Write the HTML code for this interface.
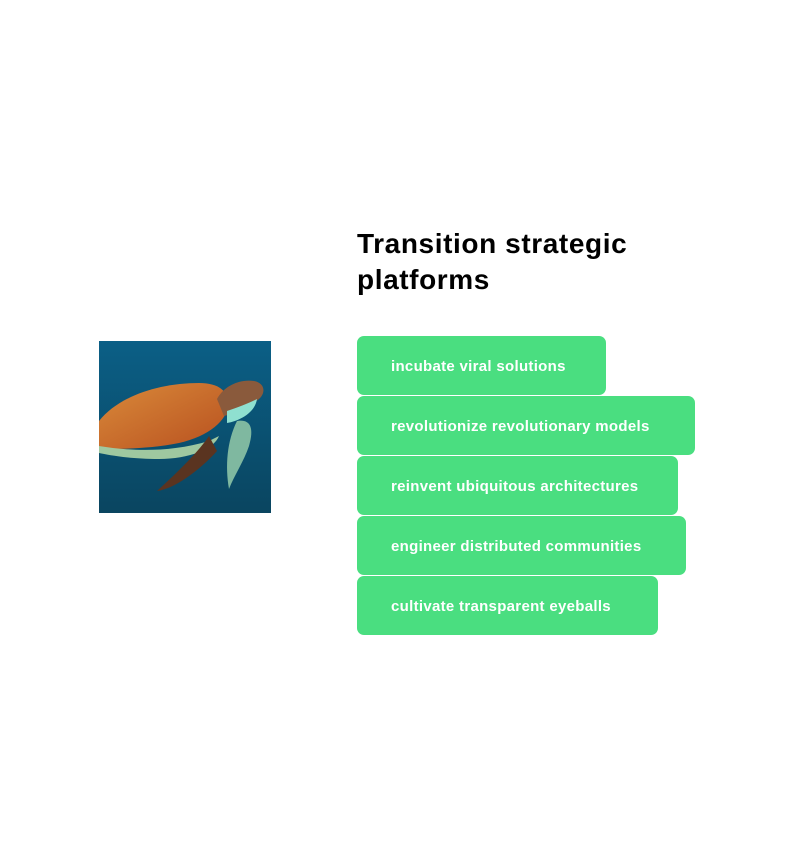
<!DOCTYPE html>
<html><head><meta charset="utf-8"><style>
body{margin:0;width:800px;height:860px;background:#fff;position:relative;font-family:"Liberation Sans",sans-serif;overflow:hidden}
.t{position:absolute;left:357px;top:226px;font-size:28px;font-weight:bold;line-height:36px;color:#000;letter-spacing:0.6px}
.b{position:absolute;left:357px;height:59px;background:#4ade80;border-radius:7px;color:#fff;font-weight:bold;font-size:15px;line-height:62px;padding-left:34px;box-sizing:border-box;letter-spacing:0.3px}
</style></head><body>
<svg style="position:absolute;left:99px;top:341px" width="172" height="172" viewBox="0 0 172 172">
<defs><linearGradient id="w" x1="0" y1="0" x2="0" y2="1"><stop offset="0" stop-color="#0b5f86"/><stop offset="1" stop-color="#0a4560"/></linearGradient>
<linearGradient id="s" x1="0" y1="0" x2="1" y2="1"><stop offset="0" stop-color="#d98a3a"/><stop offset="1" stop-color="#b8501f"/></linearGradient></defs>
<rect width="172" height="172" fill="url(#w)"/>
<path d="M0,80 C20,55 60,42 100,42 C120,42 128,50 130,62 C128,80 110,95 80,102 C50,108 20,108 0,108Z" fill="url(#s)"/>
<path d="M0,105 C30,110 70,112 110,100 L120,95 C115,108 90,118 60,118 C30,118 10,114 0,112Z" fill="#9fc8a0"/>
<path d="M118,58 C125,45 140,38 155,40 C166,42 167,52 160,58 C150,66 138,72 125,75Z" fill="#8a5a3c"/>
<path d="M128,70 C140,66 150,62 158,58 C156,72 140,80 128,82Z" fill="#8fe0d0"/>
<path d="M110,95 C100,110 80,130 58,150 C75,148 100,130 118,110Z" fill="#5a3420"/>
<path d="M138,80 C150,78 156,85 150,105 C145,120 135,135 130,148 C126,125 128,100 138,80Z" fill="#7fb8a0"/>
</svg>
<div class="t">Transition strategic<br>platforms</div>
<div class="b" style="top:336px;width:249px">incubate viral solutions</div>
<div class="b" style="top:396px;width:338px">revolutionize revolutionary models</div>
<div class="b" style="top:456px;width:321px">reinvent ubiquitous architectures</div>
<div class="b" style="top:516px;width:329px">engineer distributed communities</div>
<div class="b" style="top:576px;width:301px">cultivate transparent eyeballs</div>
</body></html>
